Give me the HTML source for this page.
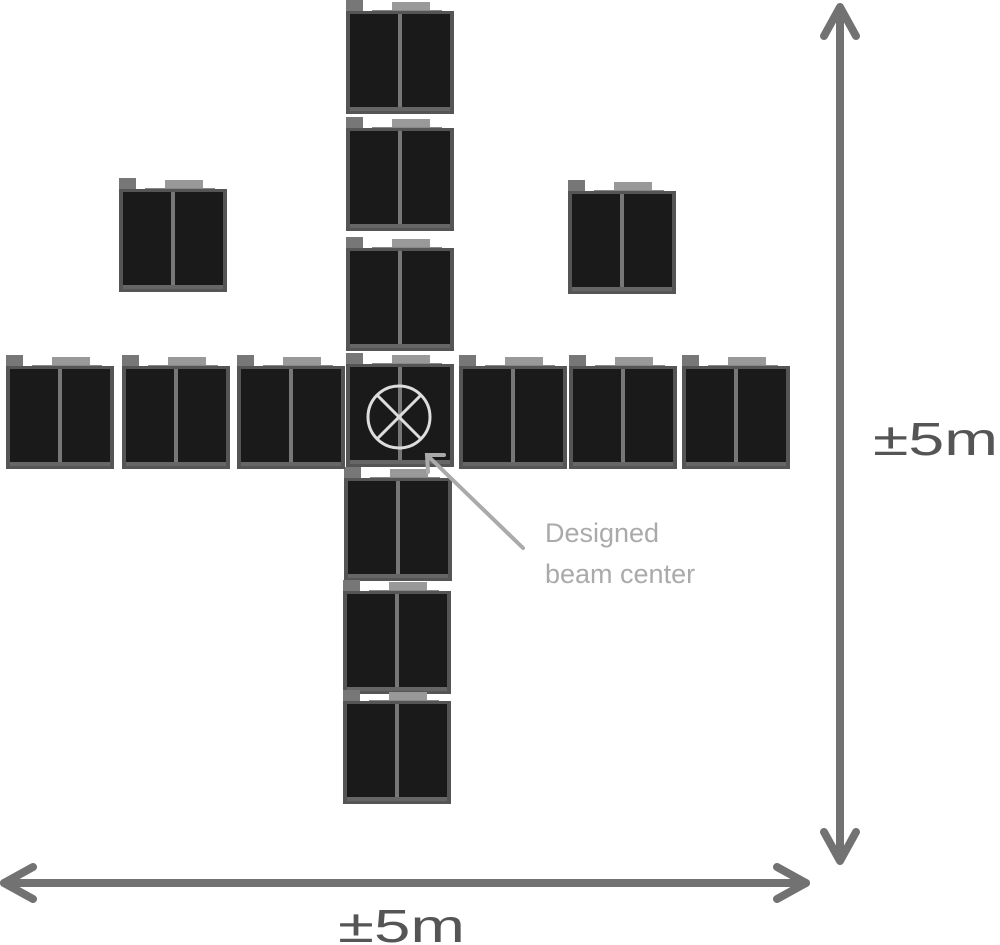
<!DOCTYPE html>
<html><head><meta charset="utf-8"><style>
html,body{margin:0;padding:0;background:#fff;width:1000px;height:945px;overflow:hidden}
svg{display:block}
text{font-family:"Liberation Sans","Noto Sans CJK JP",sans-serif}
</style></head><body>
<svg id="s" width="1000" height="945" viewBox="0 0 1000 945">
<g id="mods"></g>
<g stroke="#ddd" stroke-width="3" fill="none">
<circle cx="399" cy="417" r="31"/>
<line x1="377" y1="395" x2="421" y2="439"/><line x1="421" y1="395" x2="377" y2="439"/>
</g>
<g stroke="#aaa" stroke-width="4" stroke-linecap="round" fill="none">
<line x1="523" y1="548" x2="427" y2="455"/><polyline points="428,472 427,455 444,455"/>
</g>
<text x="545" y="542" font-size="27" fill="#aaa">Designed</text>
<text x="545" y="583" font-size="27" fill="#aaa">beam center</text>
<g stroke="#727272" stroke-width="8" stroke-linecap="round" stroke-linejoin="round" fill="none">
<line x1="840" y1="8" x2="840" y2="860"/><polyline points="824,36 840,7 856,36"/><polyline points="824,832 840,861 856,832"/>
</g>
<g stroke="#727272" stroke-width="8" stroke-linecap="round" stroke-linejoin="round" fill="none">
<line x1="4" y1="883" x2="806" y2="883"/><polyline points="33,867 4,883 33,899"/><polyline points="777,867 806,883 777,899"/>
</g>
<text x="873" y="455" font-size="46" fill="#555" textLength="125" lengthAdjust="spacingAndGlyphs">±5m</text>
<text x="338" y="942" font-size="46" fill="#555" textLength="127" lengthAdjust="spacingAndGlyphs">±5m</text>
</svg>
<script>
const modX=[346,346,346,346,344,343,343,6,122,237,459,569,682,119,568];
const modY=[0,117,237,353,467,580,690,355,355,355,355,355,355,178,180];
const NS="http://www.w3.org/2000/svg";
const g=document.getElementById('mods');
function r(p,x,y,w,h,f){const e=document.createElementNS(NS,'rect');e.setAttribute('x',x);e.setAttribute('y',y);e.setAttribute('width',w);e.setAttribute('height',h);e.setAttribute('fill',f);p.appendChild(e);return e;}
for(let i=0;i<modX.length;i++){
 const m=document.createElementNS(NS,'g');
 
 
 m.setAttribute('transform','translate('+modX[i]+','+modY[i]+')');
 r(m,0,0,17,11,'#777');
 r(m,46,2,38,11,'#999');
 r(m,26,10,70,3,'#888');
 r(m,0,11,108,103,'#555');
 r(m,4,14,100,97,'#1a1a1a');
 r(m,52,14,4,97,'#777');
 r(m,4,107,100,4,'#666');
 g.appendChild(m);
}
</script>
</body></html>
